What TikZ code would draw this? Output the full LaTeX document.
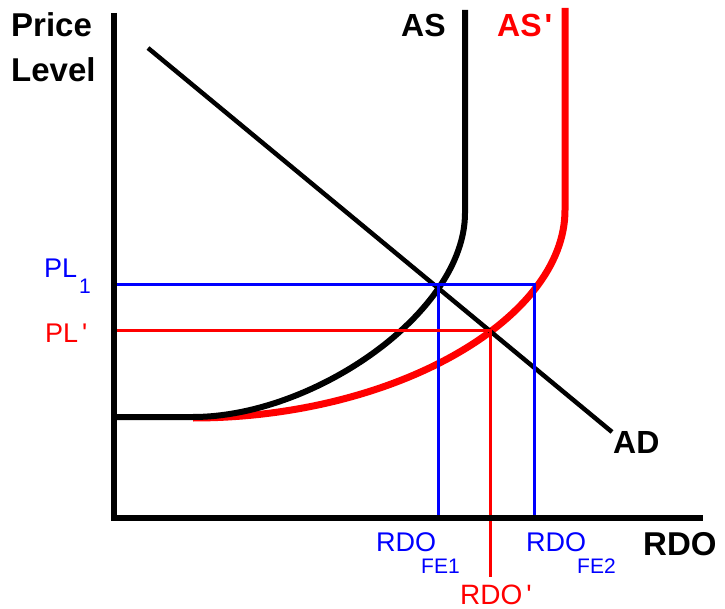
\documentclass[tikz,border=0pt]{standalone}
\usepackage{fontspec}
\setmainfont{Liberation Sans}
\definecolor{pblue}{RGB}{0,0,255}
\definecolor{pred}{RGB}{255,0,0}
\begin{document}
\begin{tikzpicture}[x=1pt,y=-1pt,
  lblk/.style={inner sep=0pt,anchor=base west,font=\fontsize{32}{36}\selectfont\bfseries},
  lblue/.style={inner sep=0pt,anchor=base west,text=pblue,font=\fontsize{27}{30}\selectfont},
  lsub/.style={inner sep=0pt,anchor=base west,text=pblue,font=\fontsize{21}{24}\selectfont},
  lred/.style={inner sep=0pt,anchor=base west,text=pred,font=\fontsize{27}{30}\selectfont},
  axisline/.style={line width=6.5pt,line join=miter},
  guideblue/.style={draw=pblue,line width=3pt},
  guidered/.style={draw=pred,line width=3pt},
  ascurve/.style={line width=6pt},
  asred/.style={draw=pred,line width=7pt},
  adline/.style={line width=4.5pt}]
\useasboundingbox (0,0) rectangle (725,609);
\fill[white] (0,0) rectangle (725,609);
% named points
\coordinate (ytop) at (114,13);
\coordinate (orig) at (114,518);
\coordinate (xend) at (703,518);
\coordinate (asflat) at (116,417);
\coordinate (asbend) at (193,417);
\coordinate (asvert) at (465,213);
\coordinate (astop) at (465,10);
\coordinate (arstart) at (193,418);
\coordinate (arvert) at (565,210);
\coordinate (artop) at (565,8);
\coordinate (adstart) at (148,48);
\coordinate (adend) at (612,432);
\coordinate (pl1a) at (116,285);
\coordinate (e1) at (438,285);
\coordinate (e2) at (534,285);
\coordinate (f1) at (438,518);
\coordinate (f2) at (534,518);
\coordinate (pla) at (116,331);
\coordinate (ep) at (490,331);
\coordinate (fp) at (490,577);
% curves
\draw[asred] (arstart) .. controls (393,418) and (565,320) .. (arvert) -- (artop);
\draw[ascurve] (asflat) -- (asbend) .. controls (313,417) and (465,313) .. (asvert) -- (astop);
\draw[adline] (adstart) -- (adend);
% guides
\draw[guideblue] (pl1a) -- (e2) -- (f2);
\draw[guideblue] (e1) -- (f1);
\draw[guidered] (pla) -- (ep) -- (fp);
% axes
\draw[axisline] (ytop) -- (orig) -- (xend);
% labels
\node[lblk,font=\fontsize{33}{36}\selectfont\bfseries] (price) at (11,37) {Price};
\node[lblk,font=\fontsize{33}{36}\selectfont\bfseries] (level) at (11,82) {Level};
\node[lblk] (as) at (401,37) {AS};
\node[lblk,text=pred] (asp) at (497,37) {AS\kern3pt\textquotesingle};
\node[lblk] (ad) at (613,453) {AD};
\node[lblk,font=\fontsize{33}{36}\selectfont\bfseries] (rdo) at (643,555) {RDO};
\node[lblue] (pl1) at (44,278) {PL};
\node[lsub] (pl1s) at (79,294) {1};
\node[lred] (plp) at (45,342) {PL\kern4pt\textquotesingle};
\node[lblue] (rdo1) at (376,551) {RDO};
\node[lsub] (fe1) at (421,573) {FE1};
\node[lblue] (rdo2) at (526,551) {RDO};
\node[lsub] (fe2) at (577,573) {FE2};
\node[lred,font=\fontsize{28}{30}\selectfont] (rdop) at (460,604) {RDO\kern4pt\textquotesingle};
\end{tikzpicture}
\end{document}
